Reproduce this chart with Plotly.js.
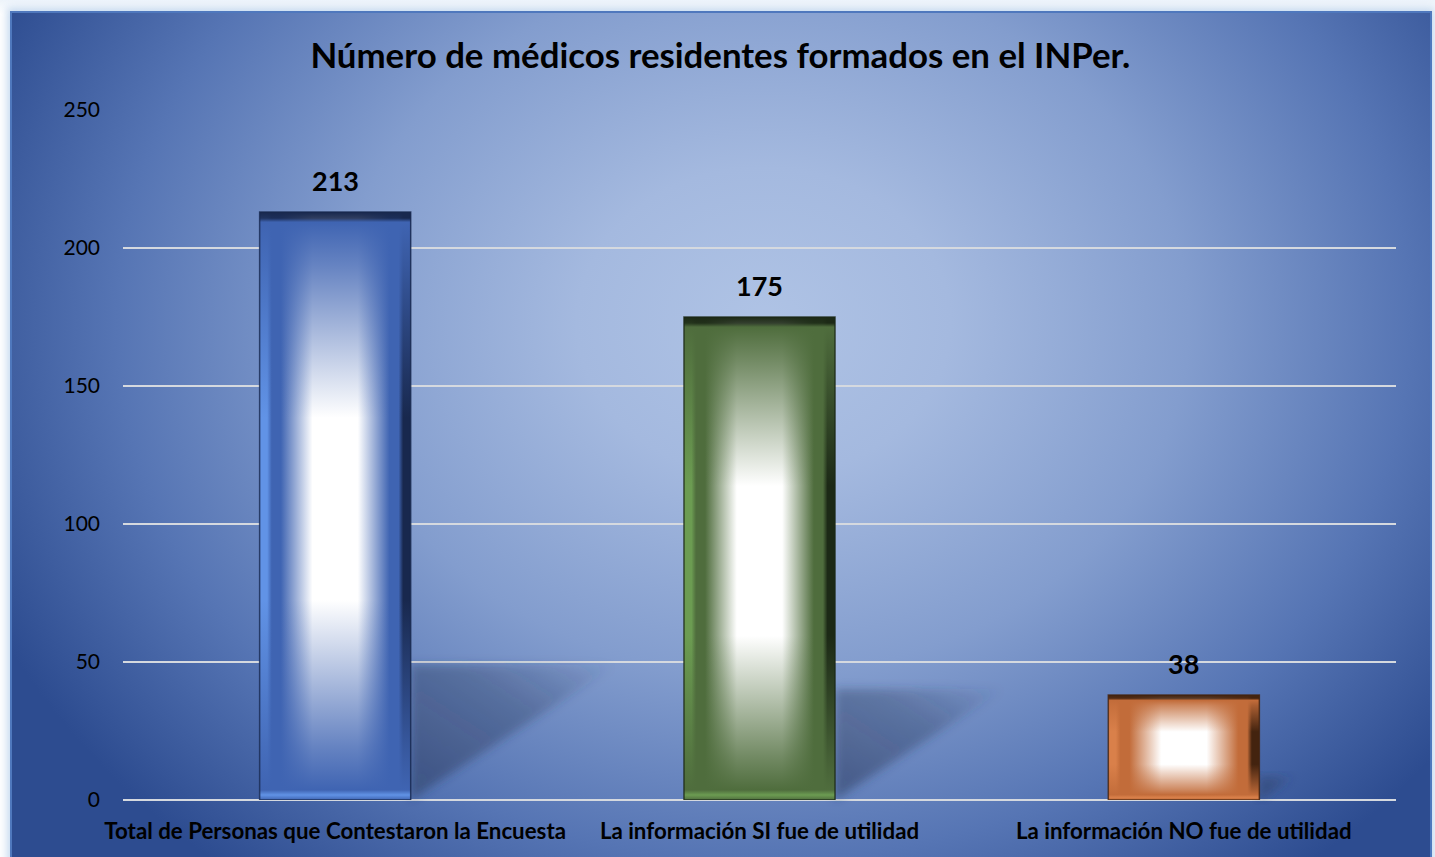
<!DOCTYPE html>
<html>
<head>
<meta charset="utf-8">
<script src="https://cdn.plot.ly/plotly-3.0.1.min.js"></script>
<style>
  html, body { margin:0; padding:0; width:1435px; height:857px; overflow:hidden;
    background: linear-gradient(180deg, #eef4fb 0px, #ffffff 14px); }
  #frame { position:absolute; left:10px; top:11px; width:1418px; height:860px;
    border:2px solid #4f78bd; box-shadow: 0 0 8px 3px rgba(150,185,225,0.55);
    background: radial-gradient(ellipse 60% 82% at 53% 36%, #afc3e5 0%, #a4b9df 22%, #839dce 50%, #5675b4 76%, #2d4c90 100%); }
  #chart { position:absolute; left:0; top:0; width:1435px; height:857px; }
</style>
</head>
<body>
<div id="frame"></div>
<div id="chart"></div>
<script>
const categories = ["Total de Personas que Contestaron la Encuesta", "La información SI fue de utilidad", "La información NO fue de utilidad"];
const values = [213, 175, 38];
const yTicks = [0, 50, 100, 150, 200, 250];
const chartTitle = "Número de médicos residentes formados en el INPer.";

const barBase  = ["#3f64b2", "#4f6d3d", "#c26c3a"];
const barLight = ["#6193e6", "#6c9c52", "#d9804a"];
const barDark  = ["#18284e", "#1c2916", "#43230f"];

const trace = {
  type: "bar",
  x: categories,
  y: values,
  width: 0.356,
  marker: { color: barBase, line: { width: 0 } },
  hoverinfo: "none",
  cliponaxis: false
};

const annotations = categories.map((c, i) => ({
  x: c, y: values[i], xref: "x", yref: "y",
  text: String(values[i]), showarrow: false,
  yanchor: "bottom", yshift: 13,
  font: { family: "Lato", size: 27, weight: 700, color: "#000" }
}));

const layout = {
  width: 1435, height: 857,
  margin: { l: 123, r: 39, t: 110, b: 57, pad: 0 },
  paper_bgcolor: "rgba(0,0,0,0)",
  plot_bgcolor: "rgba(0,0,0,0)",
  showlegend: false,
  title: {
    text: chartTitle, xref: "container", yref: "container",
    x: 0.502, xanchor: "center", y: 1 - 56/857, yanchor: "middle",
    font: { family: "Lato", size: 34.8, weight: 700, color: "#000" }
  },
  xaxis: {
    type: "category", showgrid: false, showline: false, zeroline: false, ticks: "",
    tickfont: { family: "Lato", size: 22.3, weight: 700, color: "#000" },
    ticklabelstandoff: 16, fixedrange: true
  },
  yaxis: {
    range: [0, 250], tickvals: yTicks, ticktext: yTicks.map(String),
    showgrid: true, gridcolor: "#d5d9df", gridwidth: 2,
    zeroline: true, zerolinecolor: "#d5d9df", zerolinewidth: 2,
    showline: false, ticks: "",
    tickfont: { family: "Lato", size: 21, color: "#000" },
    ticklabelstandoff: 22, fixedrange: true
  },
  annotations: annotations
};

function decorate(gd) {
  const NS = "http://www.w3.org/2000/svg";
  const svg = gd.querySelector("svg.main-svg");
  let defs = svg.querySelector("defs");
  if (!defs) { defs = document.createElementNS(NS, "defs"); svg.insertBefore(defs, svg.firstChild); }
  const mk = (tag, attrs, parent) => {
    const e = document.createElementNS(NS, tag);
    for (const k in attrs) e.setAttribute(k, attrs[k]);
    if (parent) parent.appendChild(e);
    return e;
  };
  const blur = mk("filter", { id: "shblur", x: "-20%", y: "-20%", width: "140%", height: "140%" }, defs);
  mk("feGaussianBlur", { stdDeviation: "5" }, blur);
  const shg = mk("linearGradient", { id: "shgrad", x1: "0", y1: "1", x2: "1", y2: "0" }, defs);
  mk("stop", { offset: "0", "stop-color": "#2b3a5c", "stop-opacity": "0.55" }, shg);
  mk("stop", { offset: "0.6", "stop-color": "#2b3a5c", "stop-opacity": "0.35" }, shg);
  mk("stop", { offset: "1", "stop-color": "#2b3a5c", "stop-opacity": "0.0" }, shg);

  const paths = gd.querySelectorAll(".barlayer .point path");
  paths.forEach((p, i) => {
    const bb = p.getBBox();
    const hg = mk("linearGradient", { id: "hg" + i, x1: "0", y1: "0", x2: "1", y2: "0" }, defs);
    [[0, barLight[i]], [0.05, barLight[i]], [0.08, barBase[i]], [0.14, barBase[i]], [0.35, "#ffffff"], [0.65, "#ffffff"],
     [0.86, barBase[i]], [0.92, barBase[i]], [0.95, barDark[i]], [1, barDark[i]]]
      .forEach(s => mk("stop", { offset: s[0], "stop-color": s[1] }, hg));
    const edgeV = Math.min(0.05, 10 / bb.height);
    const vg = mk("linearGradient", { id: "vg" + i, x1: "0", y1: "0", x2: "0", y2: "1" }, defs);
    [[0, barDark[i], 1], [edgeV * 0.6, barDark[i], 0.9], [edgeV, barBase[i], 1], [Math.max(0.09, edgeV * 2), barBase[i], 0.8],
     [0.35, barBase[i], 0], [0.66, barBase[i], 0], [Math.min(0.91, 1 - edgeV * 2), barBase[i], 0.8], [1 - edgeV, barBase[i], 1],
     [1 - edgeV * 0.5, barLight[i], 1], [1, barBase[i], 1]]
      .forEach(s => mk("stop", { offset: s[0], "stop-color": s[1], "stop-opacity": s[2] }, vg));

    const x1 = bb.x + bb.width, yb = bb.y + bb.height, h = bb.height;
    const sh = mk("polygon", {
      points: `${x1},${yb - 0.23 * h} ${x1 + 0.35 * h},${yb - 0.23 * h} ${x1},${yb}`,
      fill: "url(#shgrad)", filter: "url(#shblur)"
    });
    p.parentNode.parentNode.insertBefore(sh, p.parentNode.parentNode.firstChild);

    p.style.fill = "url(#hg" + i + ")";
    p.style.fillOpacity = 1;
    const c = p.cloneNode(true);
    c.style.fill = "url(#vg" + i + ")";
    p.parentNode.appendChild(c);
    const o = p.cloneNode(true);
    o.style.fill = "none";
    o.style.stroke = barDark[i];
    o.style.strokeWidth = "1.5px";
    o.style.strokeOpacity = 0.8;
    p.parentNode.appendChild(o);
  });
}

Plotly.newPlot("chart", [trace], layout, { displayModeBar: false, staticPlot: true })
  .then(decorate);
</script>
</body>
</html>
